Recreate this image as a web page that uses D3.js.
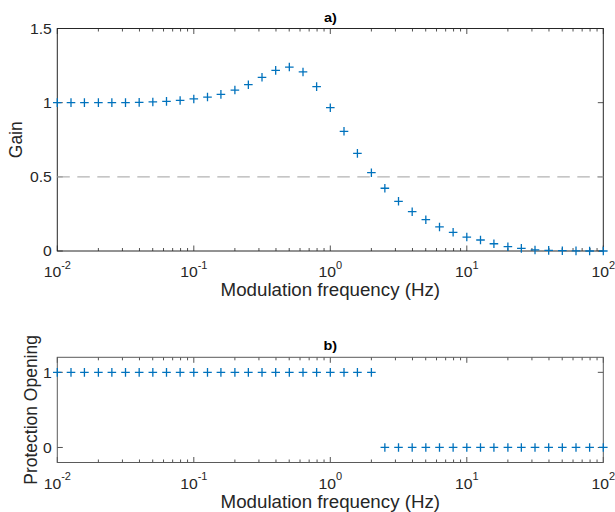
<!DOCTYPE html>
<html>
<head>
<meta charset="utf-8">
<script src="https://cdn.jsdelivr.net/npm/d3@7"></script>
<style>
  html, body { margin: 0; padding: 0; background: #fff; }
  svg { display: block; font-family: "Liberation Sans", Arial, sans-serif; }
</style>
</head>
<body>
<svg id="chart" width="615" height="512"></svg>
<script>
// Modulation frequencies (Hz), ten per decade
const frequencies = [
  0.01, 0.0126, 0.0158, 0.02, 0.0251, 0.0316, 0.0398, 0.0501, 0.0631, 0.0794,
  0.1, 0.126, 0.158, 0.2, 0.251, 0.316, 0.398, 0.501, 0.631, 0.794,
  1, 1.26, 1.58, 2, 2.51, 3.16, 3.98, 5.01, 6.31, 7.94,
  10, 12.6, 15.8, 20, 25.1, 31.6, 39.8, 50.1, 63.1, 79.4, 100
];

// Panel a) gain at each frequency
const gain = [
  1.0, 1.0, 1.0, 1.0, 1.0, 1.0, 1.002, 1.005, 1.009, 1.015,
  1.025, 1.038, 1.056, 1.085, 1.121, 1.171, 1.218, 1.24, 1.207, 1.108,
  0.966, 0.807, 0.658, 0.528, 0.423, 0.335, 0.265, 0.211, 0.162, 0.126,
  0.094, 0.074, 0.049, 0.029, 0.018, 0.007, 0.004, 0.002, 0.001, 0, 0
];

// Panel b) protection opening state at each frequency
const opening = [
  1, 1, 1, 1, 1, 1, 1, 1, 1, 1,
  1, 1, 1, 1, 1, 1, 1, 1, 1, 1,
  1, 1, 1, 1, 0, 0, 0, 0, 0, 0,
  0, 0, 0, 0, 0, 0, 0, 0, 0, 0, 0
];

const xDecades = [-2, -1, 0, 1, 2];
const gainTicks = [0, 0.5, 1, 1.5];
const openingTicks = [0, 1];
const halfPowerLevel = 0.5;

const svg = d3.select("#chart");
const blue = "#0072BD";
const ink = "#262626";
const left = 57.3, right = 603.3;
// text is drawn slightly wide, as in the exported figure
const tickStretch = 1.05, labelStretch = 1.07;

const x = d3.scaleLog().domain([0.01, 100]).range([left, right]);

const minorTicks = [];
for (let e = -2; e < 2; e++) {
  for (let m = 2; m <= 9; m++) minorTicks.push(m * Math.pow(10, e));
}

function tickLines(g, data, x1, x2, y1, y2) {
  g.append("g").selectAll("line").data(data).join("line")
    .attr("x1", x1).attr("x2", x2).attr("y1", y1).attr("y2", y2)
    .attr("stroke", ink).attr("stroke-width", 0.8);
}

function panel(opts) {
  const { top, bottom, yDomain, yTicks, title, ylabel, ylabelX, spine } = opts;
  const y = d3.scaleLinear().domain(yDomain).range([bottom, top]);
  const g = svg.append("g");
  const majors = xDecades.map(e => Math.pow(10, e));

  // inward ticks on all four sides
  tickLines(g, minorTicks, d => x(d), d => x(d), bottom, bottom - 3);
  tickLines(g, minorTicks, d => x(d), d => x(d), top, top + 3);
  tickLines(g, majors, d => x(d), d => x(d), bottom, bottom - 5.5);
  tickLines(g, majors, d => x(d), d => x(d), top, top + 5.5);
  tickLines(g, yTicks, left, left + 5.5, d => y(d), d => y(d));
  tickLines(g, yTicks, right, right - 5.5, d => y(d), d => y(d));

  // axes box
  g.append("rect")
    .attr("x", left).attr("y", top)
    .attr("width", right - left).attr("height", bottom - top)
    .attr("fill", "none").attr("stroke", spine).attr("stroke-width", 1);

  // x tick labels as powers of ten
  const xl = g.append("g").selectAll("text").data(xDecades).join("text")
    .attr("transform", d => `translate(${x(Math.pow(10, d))},${bottom + 26}) scale(${tickStretch},1)`)
    .attr("text-anchor", "middle")
    .attr("fill", ink)
    .style("font-size", "15px");
  xl.append("tspan").text("10");
  xl.append("tspan").attr("dy", -8.5).style("font-size", "10.5px").text(d => String(d));

  // y tick labels
  g.append("g").selectAll("text").data(yTicks).join("text")
    .attr("transform", d => `translate(${left - 5.5},${y(d)}) scale(${tickStretch},1)`)
    .attr("dy", "0.35em")
    .attr("text-anchor", "end")
    .attr("fill", ink)
    .style("font-size", "15px")
    .text(d => String(d));

  // axis labels and title
  g.append("text")
    .attr("transform", `translate(${(left + right) / 2},${bottom + 45}) scale(${labelStretch},1)`)
    .attr("text-anchor", "middle").attr("fill", ink)
    .style("font-size", "17.5px")
    .text("Modulation frequency (Hz)");
  g.append("text")
    .attr("transform", `translate(${ylabelX},${(top + bottom) / 2}) scale(${labelStretch},1) rotate(-90)`)
    .attr("text-anchor", "middle").attr("dy", "0.35em").attr("fill", ink)
    .style("font-size", "17.5px")
    .text(ylabel);
  g.append("text")
    .attr("transform", `translate(${(left + right) / 2},${top - 7}) scale(${labelStretch},1)`)
    .attr("text-anchor", "middle").attr("fill", "#000")
    .style("font-size", "13.5px").style("font-weight", "bold")
    .text(title);

  return { g, y };
}

// panel a)
const a = panel({
  top: 28.5, bottom: 251, yDomain: [0, 1.5], yTicks: gainTicks,
  title: "a)", ylabel: "Gain", ylabelX: 15.5, spine: ink
});

a.g.append("line")
  .attr("x1", left).attr("x2", right)
  .attr("y1", a.y(halfPowerLevel)).attr("y2", a.y(halfPowerLevel))
  .attr("stroke", "#b3b3b3").attr("stroke-width", 1.1)
  .attr("stroke-dasharray", "12.5,7.5");

// panel b)
const b = panel({
  top: 357.3, bottom: 462.5, yDomain: [-0.2, 1.2], yTicks: openingTicks,
  title: "b)", ylabel: "Protection Opening", ylabelX: 30, spine: "#5a5a5a"
});

// plus markers
function plusPath(cx, cy, r) {
  return `M${cx - r},${cy}H${cx + r}M${cx},${cy - r}V${cy + r}`;
}
function drawMarkers(g, y, values) {
  g.append("g").selectAll("path").data(frequencies).join("path")
    .attr("d", (f, i) => plusPath(x(f), y(values[i]), 4.3))
    .attr("fill", "none").attr("stroke", blue).attr("stroke-width", 1.3);
}
drawMarkers(a.g, a.y, gain);
drawMarkers(b.g, b.y, opening);
</script>
</body>
</html>
